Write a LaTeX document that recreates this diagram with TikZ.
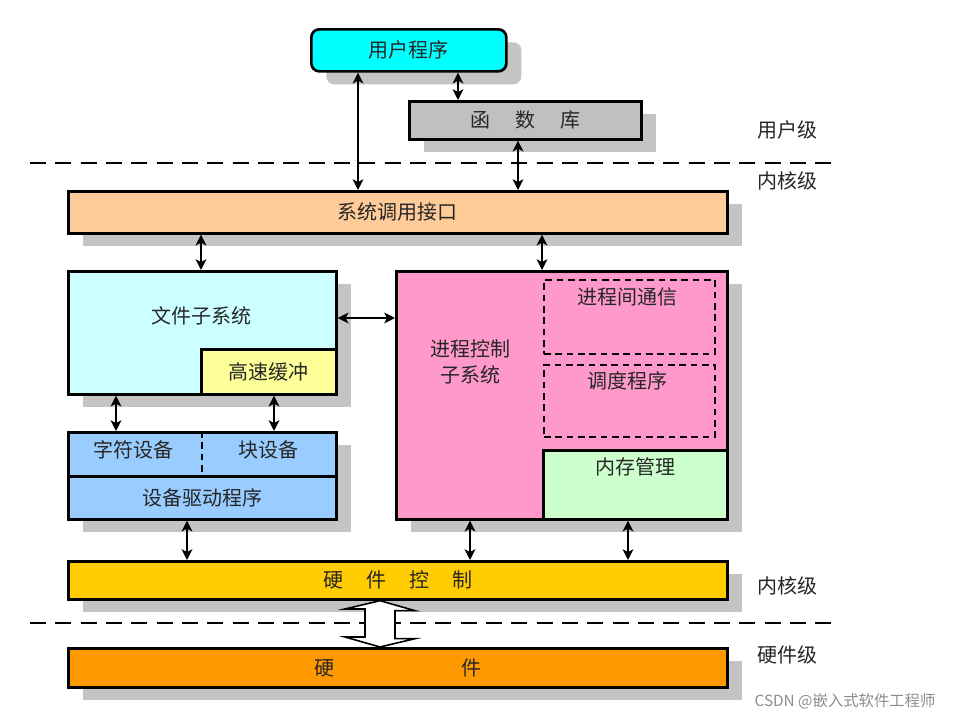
\documentclass[tikz,border=0pt]{standalone}
\usepackage{fontspec}
\setmainfont{Noto Sans CJK SC}
\usepackage{tikz}
\usetikzlibrary{arrows.meta,shadows}

\definecolor{usercyan}{HTML}{00FFFF}
\definecolor{libgray}{HTML}{C0C0C0}
\definecolor{shadowgray}{HTML}{C4C4C4}
\definecolor{callpeach}{HTML}{FFCC99}
\definecolor{fscyan}{HTML}{CCFFFF}
\definecolor{cacheyellow}{HTML}{FFFF99}
\definecolor{procpink}{HTML}{FF99CC}
\definecolor{memgreen}{HTML}{CCFFCC}
\definecolor{devblue}{HTML}{99CCFF}
\definecolor{ctlgold}{HTML}{FFCC00}
\definecolor{hworange}{HTML}{FF9900}

\tikzset{
    boxsize/.style 2 args={minimum width=#1*0.75pt, minimum height=#2*0.75pt},
    txt/.style={font=\fontsize{15}{19}\selectfont, text=black!85},
    sub/.style={draw, line width=2pt, inner sep=0pt, anchor=north west, txt},
    blk/.style={sub, drop shadow={fill=shadowgray, opacity=1,
        shadow xshift=11.25pt, shadow yshift=-9.75pt}},
    dsub/.style={draw, line width=1.3pt, dash pattern=on 5pt off 3.5pt,
        inner sep=0pt, anchor=north west},
    link/.style={{Stealth[length=8pt,width=8pt,inset=2pt]}-{Stealth[length=8pt,width=8pt,inset=2pt]}, line width=1.6pt},
    level/.style={line width=2.2pt, dash pattern=on 12pt off 7pt},
    hollow/.style={draw, fill=white, line width=1.2pt, line join=miter},
}

\begin{document}
\begin{tikzpicture}[x=0.75pt, y=-0.75pt]
    \useasboundingbox (0,0) rectangle (975,722);

    % columns and rows for the links
    \coordinate (c116) at (116,0);
    \coordinate (c187) at (187,0);
    \coordinate (c201) at (201,0);
    \coordinate (c274) at (274,0);
    \coordinate (c358) at (358,0);
    \coordinate (c380) at (380,0);
    \coordinate (c458) at (458,0);
    \coordinate (c470) at (470,0);
    \coordinate (c518) at (518,0);
    \coordinate (c542) at (542,0);
    \coordinate (c628) at (628,0);
    \coordinate (r318) at (0,318);

    % user level
    \node[blk, rounded corners=6pt, fill=usercyan, boxsize={195}{42}] (usr) at (310,28) {用户程序};
    \node[blk, fill=libgray, boxsize={232}{38}] (lib) at (408,100) {函\hspace{1.25em}数\hspace{1.25em}库};
    \node[txt] (lvuser) at (787,130) {用户级};

    \draw[level] (30,163) -- (835,163);
    \node[txt] (lvkern) at (787,181) {内核级};

    % system call interface
    \node[blk, fill=callpeach, boxsize={659}{42}] (sci) at (67,190) {系统调用接口};

    % file subsystem
    \node[blk, fill=fscyan, boxsize={268}{123}] (fs) at (67,270) {};
    \node[txt] (fstext) at (201,316) {文件子系统};
    \node[sub, fill=cacheyellow, boxsize={135}{45}, anchor=south east] (cache) at (fs.south east) {高速缓冲};

    % devices
    \node[blk, fill=devblue, boxsize={268}{44}] (dev) at (67,431) {};
    \draw[line width=1.3pt, dash pattern=on 5pt off 3.5pt] (dev.north) -- (dev.south);
    \node[txt] (chr) at (133,450) {字符设备};
    \node[txt] (blkdev) at (268,450) {块设备};
    \node[blk, fill=devblue, boxsize={268}{43}] (drv) at (67,475) {设备驱动程序};

    % process control subsystem
    \node[blk, fill=procpink, boxsize={331}{248}] (pc) at (395,270) {};
    \node[txt, align=center] (pctext) at (470,362) {进程控制\\子系统};
    \node[dsub, boxsize={171}{74}] (ipc) at (543,279) {};
    \node[txt] (ipctext) at (627,297) {进程间通信};
    \node[dsub, boxsize={171}{72}] (sched) at (543,364) {};
    \node[txt] (schedtext) at (627,381) {调度程序};
    \node[sub, fill=memgreen, boxsize={184}{69}, anchor=south east] (mem) at (pc.south east) {};
    \node[txt] (memtext) at (635,467) {内存管理};

    % hardware control
    \node[blk, fill=ctlgold, boxsize={659}{38}] (hwc) at (67,560) {硬\hspace{1.15em}件\hspace{1.15em}控\hspace{1.15em}制};
    \node[txt] (lvkern2) at (787,586) {内核级};

    \draw[level] (30,623) -- (835,623);
    \node[txt] (lvhw) at (787,655) {硬件级};

    % hardware
    \node[blk, fill=hworange, boxsize={659}{39}] (hw) at (67,647) {硬\hspace{6.35em}件};

    % links
    \draw[link] (usr.south -| c358) -- (sci.north -| c358);
    \draw[link] (usr.south -| c458) -- (lib.north -| c458);
    \draw[link] (lib.south -| c518) -- (sci.north -| c518);
    \draw[link] (sci.south -| c201) -- (fs.north -| c201);
    \draw[link] (sci.south -| c542) -- (pc.north -| c542);
    \draw[link] (fs.east |- r318) -- (pc.west |- r318);
    \draw[link] (fs.south -| c116) -- (dev.north -| c116);
    \draw[link] (cache.south -| c274) -- (dev.north -| c274);
    \draw[link] (drv.south -| c187) -- (hwc.north -| c187);
    \draw[link] (pc.south -| c470) -- (hwc.north -| c470);
    \draw[link] (mem.south -| c628) -- (hwc.north -| c628);

    % hollow arrow between hardware control and hardware
    \draw[hollow] (hwc.south -| c380) -- ++(35,10) -- ++(-20,0) -- ++(0,28)
        -- ++(20,0) -- (hw.north -| c380) -- ++(-35,-10) -- ++(20,0)
        -- ++(0,-28) -- ++(-20,0) -- cycle;

    % watermark
    \node[font=\fontsize{11.5}{14}\selectfont, text=black!45] (mark) at (845,701) {CSDN @嵌入式软件工程师};
\end{tikzpicture}
\end{document}
